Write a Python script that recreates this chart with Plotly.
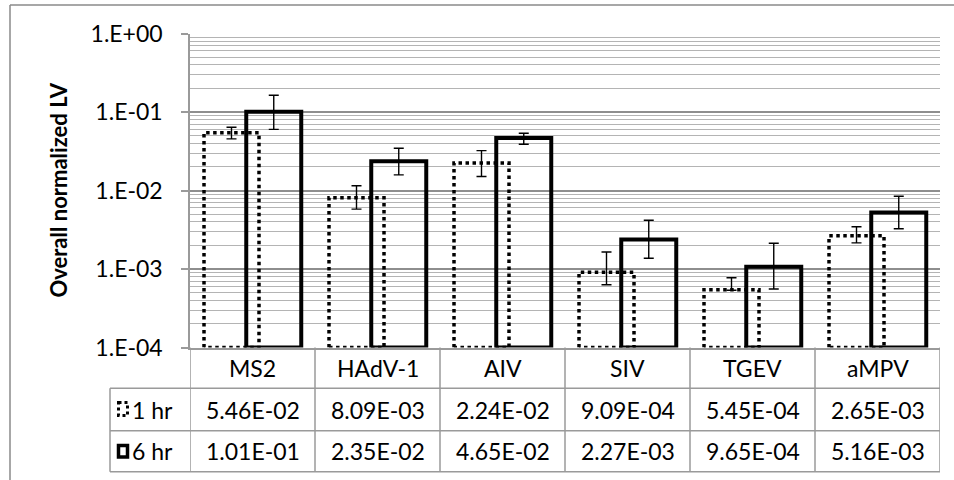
import plotly.graph_objects as go

# ---------------- data ----------------
categories = ["MS2", "HAdV-1", "AIV", "SIV", "TGEV", "aMPV"]
series_names = ["1 hr", "6 hr"]
lv_1hr = [5.46e-2, 8.09e-3, 2.24e-2, 9.09e-4, 5.45e-4, 2.65e-3]
lv_6hr = [1.01e-1, 2.35e-2, 4.65e-2, 2.27e-3, 9.65e-4, 5.16e-3]
err_1hr_plus = [0.0092, 0.0033, 0.0097, 0.00064, 0.00013, 0.0007]
err_1hr_minus = [0.0093, 0.0024, 0.0074, 0.00038, 0.00011, 0.0006]
err_6hr_plus = [0.062, 0.0110, 0.0070, 0.0018, 0.00106, 0.0032]
err_6hr_minus = [0.041, 0.0078, 0.0077, 0.0010, 0.00051, 0.0020]
y_tick_vals = [1, 0.1, 0.01, 0.001, 0.0001]
y_tick_text = ["1.E+00", "1.E-01", "1.E-02", "1.E-03", "1.E-04"]
y_title = "Overall normalized LV"

# ---------------- layout constants ----------------
W, H = 954, 480
FONT = "Lato, 'Open Sans', sans-serif"
FS = 23
GRAY = "#9A9A9A"
Y_MIN_EXP, Y_MAX_EXP = -4, 0
Y_BASE = 10 ** Y_MIN_EXP
BAR_W = 0.44
OFF_1 = -0.168
OFF_6 = 0.17


def px(x):
    return x / W


def py(y):
    return 1 - y / H


PLOT_L, PLOT_R, PLOT_T, PLOT_B = 190, 940, 33.5, 347.5
ROW1, ROW2, ROW3 = 388.3, 430.7, 471.7
LEG_L = 110

xs = list(range(len(categories)))

fig = go.Figure()

# 1 hr bars: invisible bar (carries error bars) + dotted outline
fig.add_trace(go.Bar(
    x=xs, y=lv_1hr, base=Y_BASE, width=BAR_W, offset=OFF_1 - BAR_W / 2,
    name=series_names[0],
    marker=dict(color="rgba(0,0,0,0)", line=dict(width=0)),
    error_y=dict(type="data", array=err_1hr_plus, arrayminus=err_1hr_minus,
                 color="black", thickness=1.4, width=5),
    showlegend=False, cliponaxis=False,
))
ox, oy = [], []
for i, v in zip(xs, lv_1hr):
    x0 = i + OFF_1 - BAR_W / 2
    x1 = i + OFF_1 + BAR_W / 2
    ox += [x0, x0, x1, x1, x0, None]
    oy += [Y_BASE, v, v, Y_BASE, Y_BASE, None]
fig.add_trace(go.Scatter(
    x=ox, y=oy, mode="lines", line=dict(color="black", width=3.5, dash="3.5px,3.5px"),
    hoverinfo="skip", showlegend=False, cliponaxis=False,
))

# 6 hr bars: solid thick outline, no fill
fig.add_trace(go.Bar(
    x=xs, y=lv_6hr, base=Y_BASE, width=BAR_W, offset=OFF_6 - BAR_W / 2,
    name=series_names[1],
    marker=dict(color="rgba(0,0,0,0)", line=dict(color="black", width=4)),
    error_y=dict(type="data", array=err_6hr_plus, arrayminus=err_6hr_minus,
                 color="black", thickness=1.4, width=5),
    showlegend=False, cliponaxis=False,
))

minor_vals = [k * 10 ** e for e in range(Y_MIN_EXP, Y_MAX_EXP) for k in range(2, 10)]

fig.update_layout(
    width=W, height=H,
    margin=dict(l=0, r=0, t=0, b=0, pad=0, autoexpand=False),
    paper_bgcolor="white", plot_bgcolor="white",
    barmode="overlay",
    font=dict(family=FONT, size=FS, color="black"),
    xaxis=dict(
        domain=[px(PLOT_L), px(PLOT_R)], range=[-0.5, len(categories) - 0.5],
        showgrid=False, zeroline=False, showticklabels=False, ticks="",
        showline=True, linecolor=GRAY, linewidth=1.5, automargin=False,
    ),
    yaxis=dict(
        type="log", domain=[py(PLOT_B), py(PLOT_T)], range=[Y_MIN_EXP, Y_MAX_EXP],
        tickmode="array", tickvals=y_tick_vals, ticktext=y_tick_text,
        ticks="outside", ticklen=7, tickwidth=1.5, tickcolor=GRAY,
        ticklabelstandoff=14, automargin=False,
        showline=True, linecolor=GRAY, linewidth=1.5,
        showgrid=True, gridcolor="#8E8E8E", gridwidth=1.5,
        minor=dict(tickvals=minor_vals, showgrid=True, gridcolor="#B4B4B4", gridwidth=1.3, ticks=""),
        tickfont=dict(family=FONT, size=FS, color="black"),
        zeroline=False,
    ),
    showlegend=False,
)

shapes = []
# outer chart border (top and left visible)
shapes.append(dict(type="line", xref="paper", yref="paper", x0=px(10), x1=1.02, y0=py(5), y1=py(5),
                   line=dict(color="#8A8A8A", width=1.5)))
shapes.append(dict(type="line", xref="paper", yref="paper", x0=px(10), x1=px(10), y0=py(5), y1=-0.02,
                   line=dict(color="#8A8A8A", width=1.5)))
# data-table grid
tline = dict(color=GRAY, width=1.5)
for k in range(len(categories) + 1):
    shapes.append(dict(type="line", xref="x", yref="paper", x0=k - 0.5, x1=k - 0.5,
                       y0=py(PLOT_B), y1=py(ROW3), line=tline))
for yy in (ROW1, ROW2, ROW3):
    shapes.append(dict(type="line", xref="paper", yref="paper", x0=px(LEG_L), x1=px(PLOT_R),
                       y0=py(yy), y1=py(yy), line=tline))
shapes.append(dict(type="line", xref="paper", yref="paper", x0=px(LEG_L), x1=px(LEG_L),
                   y0=py(ROW1), y1=py(ROW3), line=tline))
# legend keys
shapes.append(dict(type="rect", xref="paper", yref="paper", x0=px(118.5), x1=px(127.5),
                   y0=py(402.5), y1=py(415.5), line=dict(color="black", width=3, dash="3px,3px")))
shapes.append(dict(type="rect", xref="paper", yref="paper", x0=px(118.5), x1=px(127.5),
                   y0=py(445.5), y1=py(457), line=dict(color="black", width=3.5)))
fig.update_layout(shapes=shapes)

ann = []
ann.append(dict(text="<b>" + y_title + "</b>", textangle=-90, xref="paper", yref="paper",
                x=px(58), y=py((PLOT_T + PLOT_B) / 2), xanchor="center", yanchor="middle",
                showarrow=False, font=dict(family=FONT, size=22, color="black")))
row_c = [(PLOT_B + ROW1) / 2, (ROW1 + ROW2) / 2, (ROW2 + ROW3) / 2]
for i, c in zip(xs, categories):
    ann.append(dict(text=c, xref="x", yref="paper", x=i, y=py(row_c[0]), xanchor="center",
                    yanchor="middle", showarrow=False, font=dict(family=FONT, size=FS)))
for r, vals in enumerate([lv_1hr, lv_6hr]):
    for i, v in zip(xs, vals):
        ann.append(dict(text=f"{v:.2E}", xref="x", yref="paper", x=i, y=py(row_c[r + 1]),
                        xanchor="center", yanchor="middle", showarrow=False,
                        font=dict(family=FONT, size=FS)))
    ann.append(dict(text=series_names[r], xref="paper", yref="paper", x=px(130), xanchor="left",
                    y=py(row_c[r + 1]), yanchor="middle", showarrow=False,
                    font=dict(family=FONT, size=FS)))
fig.update_layout(annotations=ann)

fig.write_html("out.html")
